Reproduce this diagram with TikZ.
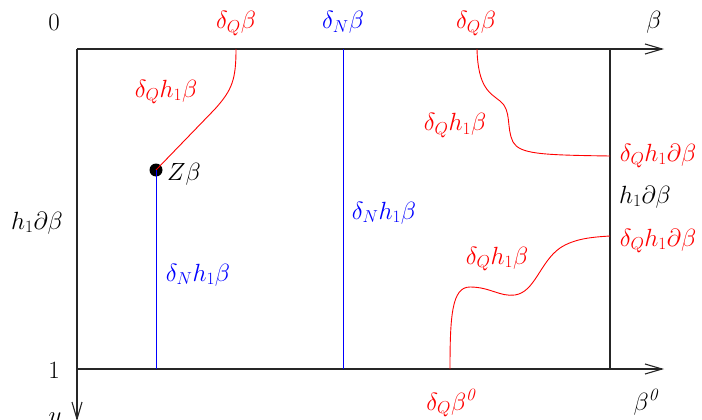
\documentclass[tikz,border=0pt]{standalone}
\usetikzlibrary{arrows.meta}
\begin{document}
\begin{tikzpicture}[x=1pt,y=-1pt,
  axis/.style={line width=1.1pt,black!85},
  axarrow/.style={axis,-{Straight Barb[length=17pt,width=10pt,line width=1.1pt]}},
  redline/.style={red,line width=0.9pt},
  blueline/.style={blue,line width=0.9pt},
  lbl/.style={inner sep=0pt,anchor=base,font=\fontsize{23}{27}\selectfont},
  rlbl/.style={lbl,text=red},
  blbl/.style={lbl,text=blue},
  dot/.style={circle,fill=black,inner sep=0pt,minimum size=13pt}]
\useasboundingbox (0,0) rectangle (702,420);
% frame coordinates
\coordinate (O) at (77,49);
\coordinate (XE) at (664,49);
\coordinate (BL) at (77,369);
\coordinate (BE) at (664,369);
\coordinate (YE) at (77,421);
\coordinate (RT) at (610,49);
\coordinate (RB) at (610,369);
% axes
\draw[axarrow] (O) -- (XE);
\draw[axarrow] (BL) -- (BE);
\draw[axarrow] (O) -- (YE);
\draw[axis] (RT) -- (RB);
% axis labels
\node[lbl] (zero) at (54,31) {$0$};
\node[lbl] (one) at (54,378) {$1$};
\node[lbl] (beta) at (654,29) {$\beta$};
\node[lbl] (beta0) at (647,410) {$\beta^{\mathit{0}}$};
\node[lbl] (ylab) at (55,423) {$y$};
\node[lbl] (hl) at (37,229) {$h_1\partial\beta$};
\node[lbl] (hr) at (645,203) {$h_1\partial\beta$};
% top labels
\node[rlbl] (qb1) at (236,29) {$\delta_Q\beta$};
\node[blbl] (nb) at (343,29) {$\delta_N\beta$};
\node[rlbl] (qb2) at (476,29) {$\delta_Q\beta$};
\node[rlbl] (qb0) at (452,410) {$\delta_Q\beta^{\mathit{0}}$};
% points on the frame
\coordinate (A1) at (236,49);
\coordinate (N1) at (343,49);
\coordinate (N2) at (343,369);
\coordinate (A2) at (477,49);
\coordinate (A3) at (610,156);
\coordinate (B1) at (450,369);
\coordinate (B2) at (610,236);
\coordinate (Zb) at (156,369);
% Z point
\node[dot] (Z) at (156,170) {};
\node[lbl] (Zl) at (184,180) {$Z\beta$};
% curves
\draw[redline] (A1) .. controls (236,80) and (232,90) .. (215,109) -- (Z.center);
\draw[blueline] (Z.center) -- (Zb);
\draw[blueline] (N1) -- (N2);
\draw[redline] (A2) .. controls (478,88) and (490,93) .. (500,101)
  .. controls (512,110) and (506,128) .. (513,142)
  .. controls (520,154) and (540,155) .. (A3);
\draw[redline] (B1) .. controls (450,315) and (452,287) .. (470,287)
  .. controls (490,287) and (500,297) .. (515,295)
  .. controls (535,292) and (540,262) .. (560,248)
  .. controls (575,238) and (595,237) .. (B2);
% curve labels
\node[rlbl] (l1) at (166,97) {$\delta_Qh_1\beta$};
\node[blbl] (l2) at (198,281) {$\delta_Nh_1\beta$};
\node[blbl] (l3) at (384,219) {$\delta_Nh_1\beta$};
\node[rlbl] (l4) at (455,131) {$\delta_Qh_1\beta$};
\node[rlbl] (l5) at (497,264) {$\delta_Qh_1\beta$};
\node[rlbl] (l6) at (658,161) {$\delta_Qh_1\partial\beta$};
\node[rlbl] (l7) at (658,246) {$\delta_Qh_1\partial\beta$};
\end{tikzpicture}
\end{document}
